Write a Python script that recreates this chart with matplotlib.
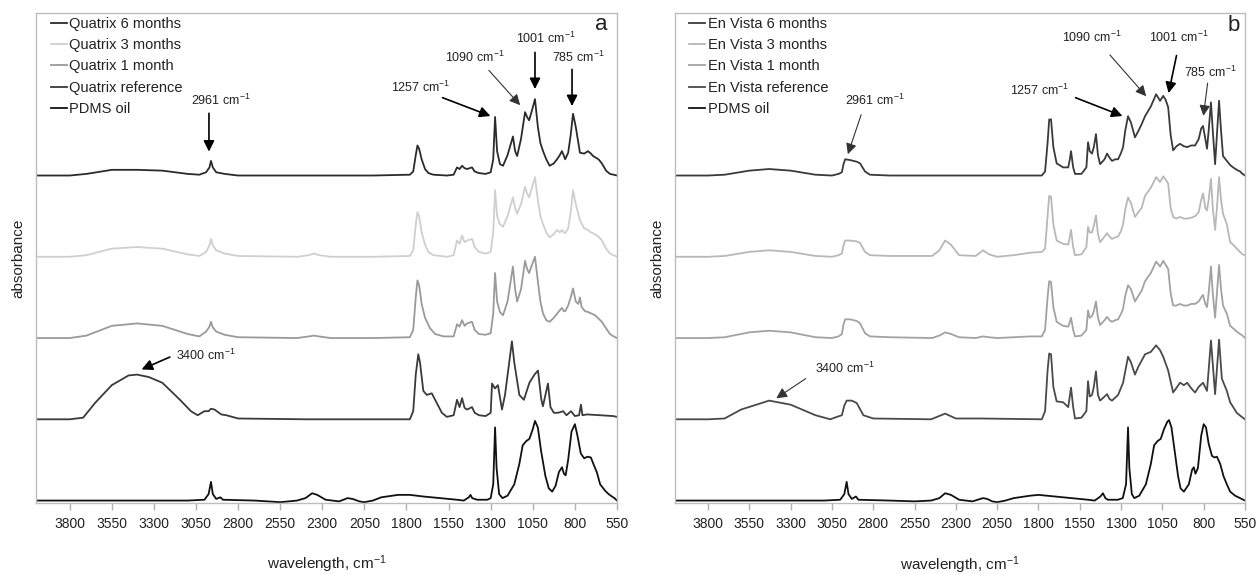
import numpy as np
import matplotlib
matplotlib.use("Agg")
import matplotlib.pyplot as plt

plt.rcParams['font.family'] = ['Liberation Sans', 'DejaVu Sans']
plt.rcParams['mathtext.fontset'] = 'custom'
plt.rcParams['mathtext.rm'] = 'Liberation Sans'
plt.rcParams['mathtext.it'] = 'Liberation Sans'

# ---------------- panel a : Quatrix ----------------
q6_wn = [4000, 3800, 3700, 3550, 3400, 3250, 3100, 3030, 2990, 2970, 2961, 2950, 2930, 2880, 2800, 2400,
         2000, 1780, 1760, 1745, 1735, 1725, 1710, 1690, 1670, 1640, 1560, 1520, 1500, 1485, 1470, 1455,
         1440, 1411, 1395, 1370, 1330, 1300, 1285, 1274, 1262, 1245, 1227, 1200, 1168, 1155, 1143, 1120,
         1096, 1084, 1072, 1055, 1037, 1020, 1005, 989, 970, 950, 925, 906, 890, 877, 865, 858, 840, 825,
         811, 795, 770, 745, 722, 705, 692, 660, 640, 615, 592, 570, 550]
q6_abs = [0, 0, 0.02, 0.07, 0.07, 0.06, 0.02, 0.01, 0.04, 0.1, 0.18, 0.1, 0.04, 0.02, 0, 0,
          0, 0.01, 0.05, 0.25, 0.37, 0.33, 0.2, 0.08, 0.03, 0.01, 0, 0.01, 0.1, 0.08, 0.12, 0.09,
          0.08, 0.1, 0.05, 0.03, 0.02, 0.04, 0.2, 0.72, 0.3, 0.14, 0.12, 0.25, 0.48, 0.3, 0.24, 0.45,
          0.78, 0.72, 0.68, 0.8, 0.94, 0.6, 0.4, 0.3, 0.2, 0.12, 0.15, 0.2, 0.25, 0.3, 0.24, 0.2, 0.28, 0.5,
          0.76, 0.6, 0.28, 0.27, 0.3, 0.27, 0.24, 0.2, 0.15, 0.06, 0.02, 0.01, 0]

q3_wn = [4000, 3800, 3700, 3550, 3400, 3250, 3100, 3030, 2990, 2970, 2961, 2950, 2930, 2880, 2800, 2450,
         2380, 2350, 2320, 2250, 2000, 1780, 1760, 1745, 1735, 1725, 1710, 1690, 1670, 1640, 1560, 1520,
         1500, 1485, 1470, 1455, 1440, 1411, 1395, 1370, 1330, 1300, 1285, 1274, 1262, 1245, 1227, 1200,
         1168, 1155, 1143, 1120, 1096, 1084, 1072, 1055, 1037, 1020, 1005, 989, 970, 950, 925, 906, 890,
         877, 865, 858, 840, 825, 811, 795, 770, 745, 722, 705, 692, 660, 640, 615, 592, 570, 550]
q3_abs = [0, 0, 0.02, 0.1, 0.12, 0.1, 0.03, 0.01, 0.06, 0.14, 0.22, 0.14, 0.08, 0.04, 0.01, 0,
          0.02, 0.04, 0.02, 0, 0, 0.01, 0.08, 0.4, 0.55, 0.5, 0.3, 0.15, 0.06, 0.02, 0, 0.02,
          0.2, 0.16, 0.26, 0.18, 0.2, 0.22, 0.12, 0.06, 0.04, 0.06, 0.3, 0.82, 0.5, 0.4, 0.37, 0.5,
          0.73, 0.6, 0.53, 0.65, 0.86, 0.78, 0.73, 0.85, 0.98, 0.7, 0.5, 0.4, 0.3, 0.24, 0.28, 0.33, 0.3,
          0.33, 0.3, 0.29, 0.35, 0.55, 0.82, 0.65, 0.45, 0.35, 0.33, 0.3, 0.29, 0.25, 0.2, 0.1, 0.04, 0.02, 0]

q1_wn = [4000, 3800, 3700, 3550, 3400, 3250, 3100, 3030, 2990, 2970, 2961, 2950, 2930, 2880, 2800, 2450,
         2380, 2350, 2320, 2250, 2000, 1780, 1760, 1745, 1735, 1725, 1710, 1690, 1660, 1630, 1580, 1520,
         1500, 1485, 1470, 1455, 1440, 1411, 1395, 1370, 1330, 1300, 1285, 1274, 1262, 1245, 1227, 1200,
         1168, 1155, 1143, 1120, 1096, 1084, 1072, 1055, 1037, 1020, 1005, 989, 970, 950, 925, 906, 890,
         877, 865, 858, 840, 825, 811, 795, 780, 770, 760, 740, 722, 700, 680, 660, 640, 615, 592, 570, 550]
q1_abs = [0, 0, 0.03, 0.15, 0.18, 0.15, 0.05, 0.02, 0.08, 0.14, 0.2, 0.13, 0.08, 0.04, 0.01, 0,
          0.02, 0.03, 0.02, 0, 0, 0.01, 0.1, 0.5, 0.71, 0.65, 0.42, 0.25, 0.12, 0.05, 0.02, 0.02,
          0.17, 0.14, 0.22, 0.15, 0.18, 0.2, 0.1, 0.05, 0.04, 0.06, 0.3, 0.8, 0.45, 0.32, 0.28, 0.45,
          0.88, 0.6, 0.45, 0.6, 0.95, 0.85, 0.8, 0.9, 1.0, 0.7, 0.45, 0.3, 0.22, 0.2, 0.25, 0.3, 0.34,
          0.37, 0.33, 0.33, 0.4, 0.5, 0.61, 0.45, 0.42, 0.5, 0.38, 0.33, 0.32, 0.3, 0.28, 0.24, 0.2, 0.12, 0.05, 0.02, 0]

qr_wn = [4000, 3800, 3720, 3650, 3550, 3450, 3400, 3330, 3250, 3150, 3080, 3040, 3000, 2975, 2961, 2940,
         2900, 2870, 2800, 2400, 1780, 1760, 1745, 1730, 1720, 1700, 1680, 1650, 1620, 1590, 1560, 1520,
         1500, 1485, 1470, 1455, 1440, 1411, 1395, 1370, 1330, 1300, 1292, 1275, 1257, 1233, 1215, 1190,
         1174, 1160, 1130, 1103, 1070, 1040, 1019, 1000, 990, 975, 960, 945, 925, 900, 870, 850, 823, 800,
         775, 764, 755, 728, 650, 574, 550]
qr_abs = [0, 0, 0.02, 0.2, 0.42, 0.54, 0.55, 0.52, 0.45, 0.25, 0.1, 0.05, 0.1, 0.1, 0.13, 0.12,
          0.06, 0.05, 0.01, 0, 0, 0.1, 0.55, 0.8, 0.7, 0.35, 0.3, 0.32, 0.2, 0.08, 0.03, 0.05,
          0.24, 0.15, 0.26, 0.14, 0.12, 0.15, 0.08, 0.05, 0.04, 0.08, 0.44, 0.38, 0.42, 0.12, 0.3, 0.7,
          0.96, 0.7, 0.3, 0.24, 0.45, 0.55, 0.6, 0.25, 0.16, 0.3, 0.44, 0.15, 0.08, 0.08, 0.1, 0.05, 0.1, 0.04,
          0.05, 0.18, 0.05, 0.06, 0.05, 0.04, 0.03]

pa_wn = [4000, 3100, 3000, 2975, 2961, 2950, 2930, 2905, 2890, 2700, 2550, 2450, 2400, 2360, 2330, 2280,
         2200, 2150, 2120, 2080, 2050, 2000, 1950, 1850, 1780, 1700, 1600, 1500, 1460, 1430, 1420, 1410,
         1380, 1320, 1300, 1285, 1274, 1265, 1250, 1230, 1200, 1160, 1130, 1110, 1090, 1070, 1050, 1037,
         1020, 1000, 975, 955, 935, 915, 895, 877, 865, 855, 840, 820, 800, 785, 765, 745, 725, 705, 690,
         670, 650, 620, 600, 580, 565, 550]
pa_abs = [0, 0, 0.01, 0.08, 0.23, 0.08, 0.02, 0.04, 0.01, 0, -0.02, 0, 0.03, 0.09, 0.07, 0.01,
          -0.01, 0.03, 0.02, -0.01, -0.02, 0, 0.04, 0.07, 0.07, 0.05, 0.03, 0.01, 0, 0.04, 0.07, 0.03,
          0.01, 0.01, 0.03, 0.2, 0.9, 0.4, 0.08, 0.03, 0.06, 0.2, 0.45, 0.68, 0.73, 0.76, 0.88, 0.98,
          0.9, 0.6, 0.3, 0.15, 0.11, 0.18, 0.35, 0.41, 0.33, 0.31, 0.5, 0.85, 0.94, 0.8, 0.58, 0.52, 0.54, 0.53, 0.45,
          0.35, 0.2, 0.12, 0.08, 0.05, 0.03, 0]

# ---------------- panel b : En Vista ----------------
e6_wn = [4000, 3800, 3700, 3550, 3430, 3300, 3150, 3050, 3010, 2990, 2980, 2970, 2940, 2900, 2880, 2850,
         2820, 2700, 2000, 1780, 1760, 1745, 1735, 1724, 1710, 1690, 1651, 1620, 1610, 1603, 1590, 1579,
         1540, 1510, 1500, 1490, 1476, 1465, 1452, 1440, 1427, 1400, 1385, 1370, 1355, 1335, 1318, 1300,
         1288, 1275, 1258, 1240, 1216, 1195, 1176, 1155, 1120, 1088, 1064, 1045, 1030, 1015, 1000, 985,
         965, 943, 920, 900, 875, 852, 830, 815, 804, 790, 780, 770, 756, 745, 731, 720, 707, 695, 683,
         660, 640, 622, 600, 580, 565, 550]
e6_abs = [0, 0, 0.01, 0.06, 0.08, 0.06, 0.01, 0, 0.02, 0.04, 0.14, 0.2, 0.19, 0.17, 0.15, 0.05,
          0.01, 0, 0, 0, 0.05, 0.4, 0.69, 0.69, 0.35, 0.15, 0.1, 0.1, 0.2, 0.3, 0.1, 0.02,
          0.02, 0.1, 0.41, 0.3, 0.27, 0.35, 0.51, 0.25, 0.14, 0.2, 0.27, 0.22, 0.18, 0.2, 0.2, 0.28,
          0.35, 0.55, 0.73, 0.65, 0.47, 0.55, 0.63, 0.73, 0.85, 1.0, 0.92, 0.98, 0.93, 0.84, 0.5, 0.31,
          0.36, 0.39, 0.36, 0.35, 0.37, 0.37, 0.45, 0.58, 0.61, 0.45, 0.33, 0.55, 0.9, 0.55, 0.14, 0.5, 0.92, 0.55, 0.24,
          0.18, 0.13, 0.1, 0.07, 0.05, 0.02, 0]

e3_wn = [4000, 3800, 3700, 3550, 3430, 3300, 3150, 3050, 3010, 2990, 2980, 2970, 2940, 2900, 2880, 2850,
         2820, 2700, 2444, 2400, 2365, 2330, 2281, 2180, 2136, 2100, 2050, 1950, 1850, 1780, 1760, 1745,
         1735, 1724, 1710, 1690, 1651, 1620, 1610, 1603, 1590, 1579, 1540, 1510, 1500, 1490, 1476, 1465,
         1452, 1440, 1427, 1400, 1385, 1370, 1355, 1335, 1318, 1300, 1288, 1275, 1258, 1240, 1216, 1195,
         1176, 1155, 1120, 1088, 1064, 1045, 1030, 1015, 1000, 985, 965, 943, 920, 900, 875, 852, 830, 815,
         804, 790, 780, 770, 756, 745, 731, 720, 707, 695, 683, 660, 640, 622, 600, 580, 565, 550]
e3_abs = [0, 0, 0.01, 0.06, 0.08, 0.06, 0.01, 0, 0.02, 0.04, 0.14, 0.2, 0.2, 0.19, 0.17, 0.06,
          0.02, 0.01, 0.01, 0.08, 0.2, 0.15, 0.02, 0.01, 0.08, 0.03, 0, 0.02, 0.05, 0.06, 0.1, 0.5,
          0.75, 0.74, 0.4, 0.2, 0.16, 0.15, 0.25, 0.33, 0.12, 0.02, 0.03, 0.12, 0.37, 0.3, 0.3, 0.38,
          0.51, 0.28, 0.18, 0.25, 0.29, 0.25, 0.22, 0.24, 0.25, 0.32, 0.4, 0.58, 0.73, 0.66, 0.49, 0.55,
          0.6, 0.75, 0.85, 0.98, 0.92, 0.99, 0.95, 0.9, 0.6, 0.49, 0.47, 0.49, 0.47, 0.47, 0.48, 0.5, 0.55, 0.7,
          0.78, 0.6, 0.57, 0.7, 0.96, 0.6, 0.33, 0.6, 0.98, 0.7, 0.53, 0.4, 0.18, 0.15, 0.1, 0.06, 0.03, 0.02]

e1_wn = [4000, 3800, 3700, 3550, 3430, 3300, 3150, 3050, 3010, 2990, 2980, 2970, 2940, 2900, 2880, 2850,
         2820, 2700, 2444, 2400, 2365, 2330, 2281, 2180, 2136, 2100, 2050, 1950, 1850, 1780, 1760, 1745,
         1735, 1724, 1710, 1690, 1651, 1620, 1610, 1603, 1590, 1579, 1540, 1510, 1500, 1490, 1476, 1465,
         1452, 1440, 1427, 1400, 1385, 1370, 1355, 1335, 1318, 1300, 1288, 1275, 1258, 1240, 1216, 1195,
         1176, 1155, 1120, 1088, 1064, 1045, 1030, 1015, 1000, 985, 965, 943, 920, 900, 875, 852, 830, 815,
         804, 790, 780, 770, 756, 745, 731, 720, 707, 695, 683, 660, 640, 622, 600, 580, 565, 550]
e1_abs = [0, 0, 0.01, 0.07, 0.09, 0.07, 0.01, 0, 0.02, 0.05, 0.17, 0.23, 0.23, 0.21, 0.18, 0.06,
          0.02, 0.01, 0, 0.03, 0.07, 0.05, 0.01, 0, 0.02, 0.01, 0, 0.01, 0.02, 0.02, 0.1, 0.5,
          0.7, 0.69, 0.38, 0.2, 0.15, 0.14, 0.2, 0.25, 0.1, 0.02, 0.03, 0.1, 0.34, 0.25, 0.27, 0.33,
          0.45, 0.25, 0.16, 0.22, 0.26, 0.22, 0.2, 0.22, 0.23, 0.3, 0.36, 0.52, 0.65, 0.6, 0.45, 0.52,
          0.58, 0.7, 0.8, 0.94, 0.88, 0.95, 0.9, 0.85, 0.55, 0.4, 0.4, 0.42, 0.4, 0.4, 0.42, 0.42, 0.45, 0.5,
          0.53, 0.42, 0.38, 0.55, 0.88, 0.55, 0.25, 0.55, 0.9, 0.6, 0.4, 0.3, 0.15, 0.12, 0.08, 0.05, 0.03, 0]

er_wn = [4000, 3800, 3700, 3600, 3430, 3300, 3150, 3060, 3020, 2990, 2975, 2961, 2930, 2900, 2860, 2800,
         2450, 2365, 2300, 2150, 1780, 1760, 1745, 1735, 1724, 1710, 1690, 1651, 1620, 1603, 1590, 1579,
         1540, 1510, 1500, 1490, 1476, 1465, 1452, 1440, 1427, 1400, 1385, 1370, 1355, 1318, 1288, 1258,
         1240, 1216, 1195, 1176, 1155, 1120, 1088, 1064, 1045, 1015, 985, 943, 920, 900, 875, 852, 830, 804,
         780, 756, 731, 707, 690, 660, 640, 600, 570, 550]
er_abs = [0, 0, 0.01, 0.12, 0.23, 0.18, 0.05, 0, 0.03, 0.05, 0.17, 0.23, 0.23, 0.2, 0.05, 0.01,
          0, 0.07, 0.01, 0.01, 0, 0.1, 0.6, 0.81, 0.8, 0.4, 0.22, 0.21, 0.15, 0.39, 0.15, 0.01,
          0.02, 0.1, 0.47, 0.28, 0.3, 0.4, 0.59, 0.3, 0.23, 0.28, 0.31, 0.25, 0.23, 0.3, 0.45, 0.77,
          0.7, 0.55, 0.65, 0.72, 0.8, 0.83, 0.91, 0.85, 0.77, 0.6, 0.33, 0.45, 0.42, 0.45, 0.38, 0.33, 0.4, 0.45,
          0.35, 0.97, 0.31, 0.98, 0.5, 0.35, 0.21, 0.08, 0.03, 0]

pb_wn = [4000, 3100, 3000, 2975, 2961, 2950, 2930, 2905, 2890, 2700, 2550, 2450, 2400, 2365, 2330, 2280,
         2200, 2136, 2110, 2080, 2050, 2000, 1950, 1850, 1800, 1700, 1600, 1500, 1460, 1425, 1410, 1395,
         1380, 1320, 1290, 1270, 1258, 1250, 1235, 1220, 1190, 1150, 1120, 1100, 1080, 1060, 1040, 1020,
         1010, 995, 975, 955, 940, 920, 890, 870, 860, 850, 835, 815, 800, 786, 770, 750, 735, 720, 700,
         680, 660, 640, 610, 580, 560, 550]
pb_abs = [0, 0, 0.01, 0.08, 0.23, 0.08, 0.02, 0.05, 0.01, 0, -0.01, 0, 0.03, 0.09, 0.07, 0.01,
          -0.01, 0.03, 0.02, -0.01, -0.02, 0, 0.03, 0.06, 0.07, 0.05, 0.03, 0.01, 0, 0.05, 0.09, 0.03,
          0.01, 0.01, 0.03, 0.2, 0.9, 0.4, 0.08, 0.03, 0.06, 0.2, 0.45, 0.68, 0.73, 0.76, 0.88, 0.97,
          0.99, 0.9, 0.6, 0.3, 0.15, 0.11, 0.2, 0.38, 0.41, 0.33, 0.4, 0.8, 0.94, 0.9, 0.7, 0.55, 0.53, 0.54, 0.45,
          0.3, 0.2, 0.11, 0.06, 0.03, 0.01, 0]

labels_a = ['Quatrix 6 months', 'Quatrix 3 months', 'Quatrix 1 month', 'Quatrix reference', 'PDMS oil']
labels_b = ['En Vista 6 months', 'En Vista 3 months', 'En Vista 1 month', 'En Vista reference', 'PDMS oil']
tick_vals = [3800, 3550, 3300, 3050, 2800, 2550, 2300, 2050, 1800, 1550, 1300, 1050, 800, 550]

# stacking offsets (top to bottom)
offsets = [4, 3, 2, 1, 0]
colors_a = ['#2b2b2b', '#cfcfcf', '#9a9a9a', '#3a3a3a', '#111111']
colors_b = ['#3a3a3a', '#b8b8b8', '#a2a2a2', '#4a4a4a', '#111111']

fig = plt.figure(figsize=(12.57, 5.74), dpi=100)
ax_a = fig.add_axes([36 / 1257, 71 / 574, 581 / 1257, 490 / 574])
ax_b = fig.add_axes([675 / 1257, 71 / 574, 570 / 1257, 490 / 574])


def draw_panel(ax, spectra, colors, labels):
    lines = []
    for (wn, ab), off, c, lab in zip(spectra, offsets, colors, labels):
        ln, = ax.plot(wn, np.array(ab) + off, color=c, lw=1.3, label=lab)
        lines.append(ln)
    ax.set_xlim(4000, 550)
    ax.set_ylim(-0.03, 6.0)
    ax.set_xticks(tick_vals)
    ax.set_xticklabels([str(t) for t in tick_vals], fontsize=10, color='#222222')
    ax.set_yticks([])
    ax.tick_params(axis='x', direction='out', length=5, width=1, colors='#b0b0b0',
                   labelcolor='#222222', pad=5)
    for sp in ax.spines.values():
        sp.set_color('#bdbdbd')
        sp.set_linewidth(1)
    ax.set_ylabel('absorbance', fontsize=11, color='#222222', labelpad=8)
    leg = ax.legend(handles=lines, loc='upper left', bbox_to_anchor=(0.01, 1.01), frameon=False,
                    fontsize=10.5, handlelength=1.1, handletextpad=0.15, labelspacing=0.5,
                    borderaxespad=0.2)
    for t in leg.get_texts():
        t.set_color('#222222')
    return lines


draw_panel(ax_a, [(q6_wn, q6_abs), (q3_wn, q3_abs), (q1_wn, q1_abs), (qr_wn, qr_abs), (pa_wn, pa_abs)],
           colors_a, labels_a)
draw_panel(ax_b, [(e6_wn, e6_abs), (e3_wn, e3_abs), (e1_wn, e1_abs), (er_wn, er_abs), (pb_wn, pb_abs)],
           colors_b, labels_b)
ax_a.set_xlabel('wavelength, cm$^{-1}$', fontsize=11, color='#222222', labelpad=16)
ax_b.set_xlabel('wavelength, cm$^{-1}$', fontsize=11, color='#222222', labelpad=17)

big = dict(arrowstyle='-|>', color='black', lw=1.2, mutation_scale=16)
thin = dict(arrowstyle='-|>', color='#333333', lw=0.8, mutation_scale=16)


def note(ax, text, txy, tail, tip, style):
    ax.text(txy[0], txy[1], text, fontsize=9, ha='center', va='center', color='#222222')
    ax.annotate('', xy=tip, xytext=tail, arrowprops=style)


# panel a annotations
note(ax_a, '2961 cm$^{-1}$', (2901, 4.93), (2973, 4.8), (2973, 4.26), big)
note(ax_a, '1257 cm$^{-1}$', (1714, 5.08), (1601, 4.97), (1286, 4.72), big)
note(ax_a, '1090 cm$^{-1}$', (1393, 5.45), (1322, 5.32), (1114, 4.84), thin)
note(ax_a, '1001 cm$^{-1}$', (972, 5.69), (1037, 5.55), (1037, 5.03), big)
note(ax_a, '785 cm$^{-1}$', (781, 5.45), (817, 5.34), (817, 4.82), big)
note(ax_a, '3400 cm$^{-1}$', (2990, 1.79), (3190, 1.78), (3388, 1.6), big)
ax_a.text(645, 5.86, 'a', fontsize=16, ha='center', va='center', color='#222222')

# panel b annotations
note(ax_b, '2961 cm$^{-1}$', (2789, 4.93), (2868, 4.78), (2959, 4.23), thin)
note(ax_b, '1257 cm$^{-1}$', (1791, 5.05), (1591, 4.97), (1276, 4.72), big)
note(ax_b, '1090 cm$^{-1}$', (1476, 5.7), (1379, 5.51), (1137, 4.95), thin)
note(ax_b, '1001 cm$^{-1}$', (949, 5.7), (961, 5.51), (1016, 4.98), big)
note(ax_b, '785 cm$^{-1}$', (762, 5.27), (774, 5.17), (804, 4.7), thin)
note(ax_b, '3400 cm$^{-1}$', (2971, 1.63), (3195, 1.52), (3401, 1.24), thin)
ax_b.text(616, 5.85, 'b', fontsize=16, ha='center', va='center', color='#222222')

fig.savefig('out.png', dpi=100)
